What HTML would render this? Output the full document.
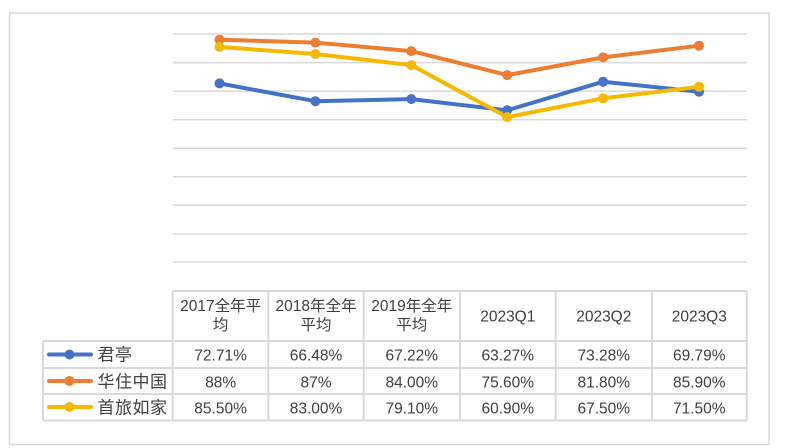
<!DOCTYPE html>
<html><head><meta charset="utf-8"><style>
html,body{margin:0;padding:0;background:#fff;}
svg{display:block;}
text{font-family:"Liberation Sans","Noto Sans CJK SC",sans-serif;fill:#404040;}
</style></head><body>
<svg width="785" height="448" viewBox="0 0 785 448" xmlns="http://www.w3.org/2000/svg">
<rect x="9.5" y="13" width="759.5" height="431.5" fill="#fff" stroke="#D9D9D9" stroke-width="1.5"/>
<g stroke="#D9D9D9" stroke-width="1.5">
<line x1="172.7" y1="34" x2="747" y2="34"/>
<line x1="172.7" y1="62.6" x2="747" y2="62.6"/>
<line x1="172.7" y1="91.1" x2="747" y2="91.1"/>
<line x1="172.7" y1="119.7" x2="747" y2="119.7"/>
<line x1="172.7" y1="148.2" x2="747" y2="148.2"/>
<line x1="172.7" y1="176.8" x2="747" y2="176.8"/>
<line x1="172.7" y1="205.3" x2="747" y2="205.3"/>
<line x1="172.7" y1="233.9" x2="747" y2="233.9"/>
<line x1="172.7" y1="262" x2="747" y2="262"/>
</g>
<g stroke="#D9D9D9" stroke-width="2" fill="none">
<line x1="172.7" y1="291" x2="747" y2="291"/>
<line x1="43" y1="341" x2="747" y2="341"/>
<line x1="43" y1="368" x2="747" y2="368"/>
<line x1="43" y1="394" x2="747" y2="394"/>
<line x1="43" y1="420.5" x2="747" y2="420.5"/>
<line x1="43" y1="341" x2="43" y2="420.5"/>
<line x1="172.7" y1="291" x2="172.7" y2="420.5"/>
<line x1="268.3" y1="291" x2="268.3" y2="420.5"/>
<line x1="363.7" y1="291" x2="363.7" y2="420.5"/>
<line x1="460" y1="291" x2="460" y2="420.5"/>
<line x1="555.7" y1="291" x2="555.7" y2="420.5"/>
<line x1="652" y1="291" x2="652" y2="420.5"/>
<line x1="746.7" y1="291" x2="746.7" y2="420.5"/>
</g>
<!-- series -->
<g fill="none" stroke-width="4" stroke-linejoin="round" stroke-linecap="round">
<polyline stroke="#4472C4" points="219.5,83.4 315.4,101.2 411.3,99.1 507.2,110.3 603.1,81.7 699,91.7"/>
<polyline stroke="#ED7D31" points="219.5,39.7 315.4,42.6 411.3,51.1 507.2,75.1 603.1,57.4 699,45.7"/>
<polyline stroke="#F5BA00" points="219.5,46.9 315.4,54 411.3,65.1 507.2,117.1 603.1,98.3 699,86.8"/>
</g>
<g fill="#4472C4">
<circle cx="219.5" cy="83.4" r="5"/><circle cx="315.4" cy="101.2" r="5"/><circle cx="411.3" cy="99.1" r="5"/><circle cx="507.2" cy="110.3" r="5"/><circle cx="603.1" cy="81.7" r="5"/><circle cx="699" cy="91.7" r="5"/>
</g>
<g fill="#ED7D31">
<circle cx="219.5" cy="39.7" r="5"/><circle cx="315.4" cy="42.6" r="5"/><circle cx="411.3" cy="51.1" r="5"/><circle cx="507.2" cy="75.1" r="5"/><circle cx="603.1" cy="57.4" r="5"/><circle cx="699" cy="45.7" r="5"/>
</g>
<g fill="#F5BA00">
<circle cx="219.5" cy="46.9" r="5"/><circle cx="315.4" cy="54" r="5"/><circle cx="411.3" cy="65.1" r="5"/><circle cx="507.2" cy="117.1" r="5"/><circle cx="603.1" cy="98.3" r="5"/><circle cx="699" cy="86.8" r="5"/>
</g>
<!-- header -->
<g font-size="15.5" text-anchor="middle">
<text x="220.6" y="311">2017全年平</text>
<text x="220.6" y="330">均</text>
<text x="316" y="311">2018年全年</text>
<text x="316" y="330">平均</text>
<text x="411.8" y="311">2019年全年</text>
<text x="411.8" y="330">平均</text>
<text x="507.8" y="321.5">2023Q1</text>
<text x="603.8" y="321.5">2023Q2</text>
<text x="699.3" y="321.5">2023Q3</text>
</g>
<!-- data -->
<g font-size="15.5" text-anchor="middle">
<text x="220.6" y="360.5">72.71%</text><text x="316" y="360.5">66.48%</text><text x="411.8" y="360.5">67.22%</text><text x="507.8" y="360.5">63.27%</text><text x="603.8" y="360.5">73.28%</text><text x="699.3" y="360.5">69.79%</text>
<text x="220.6" y="387.3">88%</text><text x="316" y="387.3">87%</text><text x="411.8" y="387.3">84.00%</text><text x="507.8" y="387.3">75.60%</text><text x="603.8" y="387.3">81.80%</text><text x="699.3" y="387.3">85.90%</text>
<text x="220.6" y="413.3">85.50%</text><text x="316" y="413.3">83.00%</text><text x="411.8" y="413.3">79.10%</text><text x="507.8" y="413.3">60.90%</text><text x="603.8" y="413.3">67.50%</text><text x="699.3" y="413.3">71.50%</text>
</g>
<!-- legend -->
<g stroke-width="4" stroke-linecap="round">
<line x1="49" y1="354.5" x2="91" y2="354.5" stroke="#4472C4"/>
<line x1="49" y1="381" x2="91" y2="381" stroke="#ED7D31"/>
<line x1="49" y1="407" x2="91" y2="407" stroke="#F5BA00"/>
</g>
<circle cx="69.5" cy="354.5" r="5" fill="#4472C4"/>
<circle cx="69.5" cy="381" r="5" fill="#ED7D31"/>
<circle cx="69.5" cy="407" r="5" fill="#F5BA00"/>
<g font-size="17" letter-spacing="0.5">
<text x="97.5" y="360.5">君亭</text>
<text x="97.5" y="387.3">华住中国</text>
<text x="97.5" y="413.3">首旅如家</text>
</g>
</svg>
</body></html>
